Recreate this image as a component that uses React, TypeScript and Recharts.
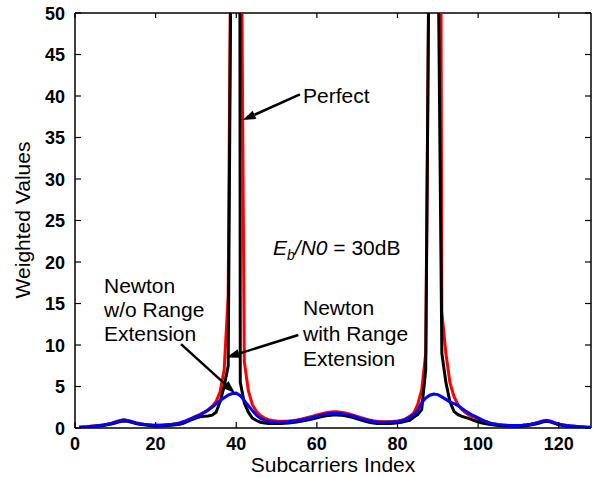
import React from 'react';
import { LineChart, Line, XAxis, YAxis, ReferenceLine } from 'recharts';

const FONT = '"Liberation Sans", Arial, Helvetica, sans-serif';

const xTicks = [0, 20, 40, 60, 80, 100, 120];
const yTicks = [0, 5, 10, 15, 20, 25, 30, 35, 40, 45, 50];

// weights per subcarrier 1..128
const perfect = [
  0.05, 0.08, 0.1, 0.15, 0.2, 0.25, 0.3, 0.38, 0.48, 0.6,
  0.75, 0.85, 0.82, 0.7, 0.55, 0.45, 0.38, 0.32, 0.28, 0.25,
  0.25, 0.27, 0.3, 0.33, 0.38, 0.45, 0.6, 0.8, 1.0, 1.2,
  1.35, 1.4, 1.45, 1.55, 1.9, 3.2, 5.0, 7.5, 80, 500,
  5.5, 3.0, 1.9, 1.2, 0.9, 0.7, 0.6, 0.55, 0.55, 0.55,
  0.55, 0.56, 0.6, 0.65, 0.72, 0.8, 0.9, 1.0, 1.1, 1.22,
  1.35, 1.45, 1.52, 1.57, 1.57, 1.55, 1.48, 1.38, 1.25, 1.1,
  0.95, 0.82, 0.7, 0.6, 0.55, 0.55, 0.55, 0.55, 0.57, 0.62,
  0.7, 0.8, 0.92, 1.3, 1.6, 2.2, 7, 70, 500, 62,
  9, 5.5, 3.2, 2.0, 1.6, 1.4, 1.25, 1.1, 0.9, 0.75,
  0.6, 0.5, 0.42, 0.36, 0.3, 0.27, 0.25, 0.23, 0.22, 0.22,
  0.24, 0.28, 0.35, 0.45, 0.58, 0.72, 0.8, 0.72, 0.55, 0.4,
  0.3, 0.22, 0.17, 0.13, 0.1, 0.08, 0.06, 0.05,
];

const withExt = [
  0.1, 0.12, 0.15, 0.2, 0.25, 0.3, 0.36, 0.46, 0.56, 0.72,
  0.88, 0.98, 0.92, 0.78, 0.64, 0.54, 0.46, 0.4, 0.36, 0.34,
  0.34, 0.36, 0.4, 0.45, 0.52, 0.62, 0.78, 0.98, 1.2, 1.42,
  1.65, 1.9, 2.2, 2.6, 3.2, 4.4, 7, 16, 85, 600,
  80, 8, 4.5, 2.8, 2.0, 1.5, 1.2, 1.0, 0.9, 0.85,
  0.82, 0.82, 0.85, 0.9, 0.97, 1.06, 1.17, 1.3, 1.43, 1.56,
  1.7, 1.82, 1.9, 1.95, 1.95, 1.9, 1.82, 1.7, 1.55, 1.4,
  1.24, 1.1, 0.97, 0.87, 0.8, 0.77, 0.76, 0.77, 0.8, 0.85,
  0.95, 1.1, 1.4, 1.8, 2.8, 4.6, 9, 68, 600, 200,
  14, 9, 5.5, 3.8, 2.8, 2.2, 1.8, 1.5, 1.3, 1.1,
  0.9, 0.75, 0.6, 0.5, 0.42, 0.37, 0.33, 0.31, 0.3, 0.3,
  0.33, 0.38, 0.46, 0.56, 0.7, 0.84, 0.92, 0.82, 0.64, 0.48,
  0.38, 0.3, 0.25, 0.2, 0.16, 0.13, 0.1, 0.1,
];

const withoutExt = [
  0.1, 0.12, 0.15, 0.2, 0.25, 0.3, 0.35, 0.45, 0.55, 0.7,
  0.85, 0.95, 0.9, 0.75, 0.62, 0.52, 0.45, 0.4, 0.35, 0.33,
  0.33, 0.35, 0.38, 0.42, 0.5, 0.6, 0.75, 0.95, 1.15, 1.35,
  1.55, 1.85, 2.15, 2.5, 2.9, 3.3, 3.65, 3.95, 4.15, 4.2,
  3.9, 3.3, 2.7, 2.1, 1.55, 1.15, 0.95, 0.8, 0.72, 0.7,
  0.7, 0.72, 0.75, 0.8, 0.88, 0.97, 1.07, 1.18, 1.3, 1.42,
  1.55, 1.65, 1.72, 1.77, 1.77, 1.73, 1.65, 1.55, 1.42, 1.28,
  1.13, 1.0, 0.88, 0.78, 0.72, 0.7, 0.7, 0.7, 0.72, 0.76,
  0.85, 1.02, 1.28, 1.6, 2.1, 3.05, 3.6, 3.95, 4.1, 4.02,
  3.75, 3.45, 3.15, 2.95, 2.7, 2.35, 2.0, 1.7, 1.45, 1.22,
  0.98, 0.75, 0.57, 0.47, 0.4, 0.35, 0.32, 0.3, 0.3, 0.3,
  0.33, 0.38, 0.45, 0.55, 0.68, 0.82, 0.9, 0.8, 0.62, 0.47,
  0.37, 0.3, 0.25, 0.2, 0.16, 0.13, 0.1, 0.1,
];

const rows = perfect.map((v, i) => ({
  idx: i + 1,
  perfect: v,
  withExt: withExt[i],
  withoutExt: withoutExt[i],
}));

// arrow annotations in data units: [from, to(tip)]
const arrows = [
  [{ x: 55.8, y: 40.2 }, { x: 41.6, y: 37.1 }],
  [{ x: 55.4, y: 11.2 }, { x: 37.6, y: 8.5 }],
  [{ x: 26.3, y: 10.1 }, { x: 39.7, y: 4.2 }],
];

const TOP = 13;
const RIGHT = 591;

function XTick(props: any) {
  const { x, y, payload } = props;
  const axisY = y - 9;
  return (
    <g>
      <line x1={x} y1={axisY} x2={x} y2={axisY - 6} stroke="#000" strokeWidth={1.2} />
      <line x1={x} y1={TOP} x2={x} y2={TOP + 5} stroke="#000" strokeWidth={1.2} />
      <text x={x} y={y + 13} textAnchor="middle" fontSize={18} fontWeight="bold" fontFamily={FONT} fill="#000">
        {payload.value}
      </text>
    </g>
  );
}

function YTick(props: any) {
  const { x, y, payload } = props;
  const axisX = x + 10;
  return (
    <g>
      <line x1={axisX} y1={y} x2={axisX + 6} y2={y} stroke="#000" strokeWidth={1.2} />
      <line x1={RIGHT - 6} y1={y} x2={RIGHT} y2={y} stroke="#000" strokeWidth={1.2} />
      <text x={x} y={y + 6.5} textAnchor="end" fontSize={18} fontWeight="bold" fontFamily={FONT} fill="#000">
        {payload.value}
      </text>
    </g>
  );
}

function Arrow(props: any) {
  const { x1, y1, x2, y2 } = props;
  const dx = x2 - x1;
  const dy = y2 - y1;
  const len = Math.sqrt(dx * dx + dy * dy);
  const ux = dx / len;
  const uy = dy / len;
  const head = 13;
  const half = 4.5;
  const bx = x2 - ux * head;
  const by = y2 - uy * head;
  return (
    <g>
      <line x1={x1} y1={y1} x2={bx} y2={by} stroke="#000" strokeWidth={2.5} />
      <polygon
        points={`${x2},${y2} ${bx - uy * half},${by + ux * half} ${bx + uy * half},${by - ux * half}`}
        fill="#000"
      />
    </g>
  );
}

export default function App() {
  return (
    <div style={{ position: 'absolute', left: 0, top: 0, width: 600, height: 478, background: '#fff' }}>
      <LineChart width={600} height={478} data={rows} margin={{ top: 13, right: 9, bottom: 0, left: 15 }}>
        <XAxis
          dataKey="idx"
          type="number"
          domain={[0, 128]}
          ticks={xTicks}
          interval={0}
          height={50}
          tickSize={0}
          tickMargin={9}
          tickLine={false}
          tick={<XTick />}
          axisLine={{ stroke: '#000', strokeWidth: 1.5 }}
        />
        <YAxis
          type="number"
          domain={[0, 50]}
          ticks={yTicks}
          interval={0}
          allowDataOverflow
          width={60}
          tickSize={0}
          tickMargin={10}
          tickLine={false}
          tick={<YTick />}
          axisLine={{ stroke: '#000', strokeWidth: 1.5 }}
        />
        <ReferenceLine y={50} stroke="#000" strokeWidth={1.5} />
        <ReferenceLine x={128} stroke="#000" strokeWidth={1.5} />
        <Line dataKey="withExt" type="linear" stroke="#ff0000" strokeWidth={3} dot={false} isAnimationActive={false} />
        <Line dataKey="perfect" type="linear" stroke="#000000" strokeWidth={3} dot={false} isAnimationActive={false} />
        <Line dataKey="withoutExt" type="linear" stroke="#0000ff" strokeWidth={3} dot={false} isAnimationActive={false} />
        {arrows.map((seg, i) => (
          <ReferenceLine key={i} segment={seg} ifOverflow="visible" shape={<Arrow />} />
        ))}
        <text x={303} y={103} fontSize={21} fontFamily={FONT} fill="#000">Perfect</text>
        <text x={273} y={255} fontSize={21} fontFamily={FONT} fill="#000">
          <tspan fontStyle="italic">E</tspan>
          <tspan fontStyle="italic" fontSize={14} dy={5}>b</tspan>
          <tspan fontStyle="italic" dy={-5}>/N0</tspan>
          <tspan> = 30dB</tspan>
        </text>
        <text fontSize={21} fontFamily={FONT} fill="#000">
          <tspan x={303} y={315}>Newton</tspan>
          <tspan x={303} y={341}>with Range</tspan>
          <tspan x={303} y={366}>Extension</tspan>
        </text>
        <text fontSize={21} fontFamily={FONT} fill="#000">
          <tspan x={104} y={293}>Newton</tspan>
          <tspan x={104} y={317}>w/o Range</tspan>
          <tspan x={104} y={341}>Extension</tspan>
        </text>
        <text x={333} y={472} textAnchor="middle" fontSize={21} fontFamily={FONT} fill="#000">
          Subcarriers Index
        </text>
        <text transform="translate(30,220) rotate(-90)" textAnchor="middle" fontSize={21} fontFamily={FONT} fill="#000">
          Weighted Values
        </text>
      </LineChart>
    </div>
  );
}
